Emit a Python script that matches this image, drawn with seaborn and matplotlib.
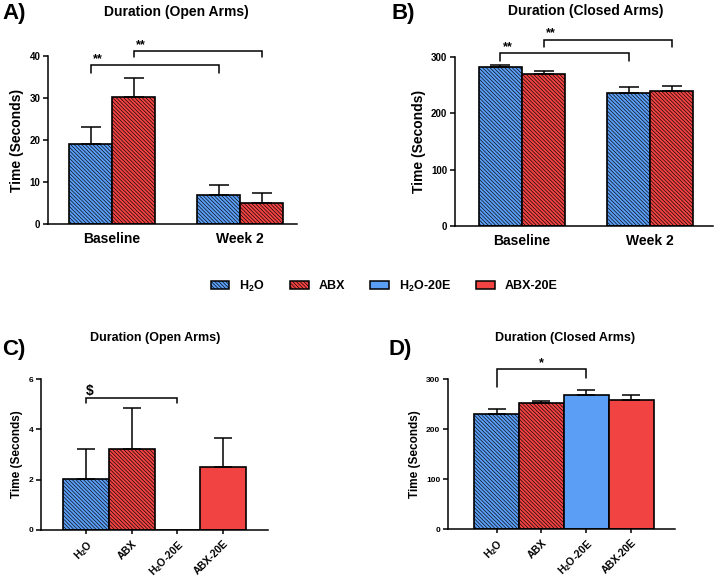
import matplotlib
matplotlib.use("Agg")
import matplotlib.pyplot as plt
from matplotlib.patches import Patch
import numpy as np
import pandas as pd
import seaborn as sns

# ---- data ----
timepoints = ["Baseline", "Week 2"]
groups = ["H2O", "ABX"]
open_h2o = [19.0, 6.8]
open_h2o_err = [4.1, 2.4]
open_abx = [30.3, 5.1]
open_abx_err = [4.5, 2.2]
closed_h2o = [281.5, 235.5]
closed_h2o_err = [4.0, 11.0]
closed_abx = [270.5, 240.0]
closed_abx_err = [4.5, 8.0]

treatments = ["H2O", "ABX", "H2O-20E", "ABX-20E"]
treat_labels = ["H$_2$O", "ABX", "H$_2$O-20E", "ABX-20E"]
open_treat = [2.02, 3.21, 0.0, 2.51]
open_treat_err = [1.2, 1.62, 0.0, 1.15]
closed_treat = [230.0, 251.5, 268.8, 258.8]
closed_treat_err = [10.5, 5.5, 10.0, 10.0]

BLUE = "#5b9ef5"
RED = "#f24343"
HATCH = "\\" * 9

sns.set_style("ticks")
plt.rcParams["font.family"] = ["Liberation Sans", "DejaVu Sans"]
plt.rcParams["font.weight"] = "bold"
plt.rcParams["axes.labelweight"] = "bold"
plt.rcParams["mathtext.fontset"] = "custom"
plt.rcParams["mathtext.rm"] = "Liberation Sans:bold"
plt.rcParams["mathtext.default"] = "rm"
plt.rcParams["hatch.linewidth"] = 0.45
plt.rcParams["hatch.color"] = "black"
for key in ["text.color", "axes.labelcolor", "xtick.color", "ytick.color",
            "axes.edgecolor"]:
    plt.rcParams[key] = "black"

W, H = 715, 583
fig = plt.figure(figsize=(W / 100, H / 100), dpi=100)


def rect(l, t, r, b):
    return [l / W, 1 - b / H, (r - l) / W, (b - t) / H]


def style_axis(ax, ylim, yticks, xlim, tick_fs, label_fs):
    ax.set_ylim(*ylim)
    ax.set_yticks(yticks)
    ax.set_xlim(*xlim)
    sns.despine(ax=ax)
    for s in ["left", "bottom"]:
        ax.spines[s].set_linewidth(1.1)
    ax.tick_params(axis="y", labelsize=tick_fs, width=1.1, length=3.5, pad=2)
    ax.set_ylabel("Time (Seconds)", fontsize=label_fs, fontweight="bold")
    ax.set_xlabel("")


def bracket(ax, x1, x2, y, y1, y2, text, tx, fs=9):
    ax.plot([x1, x1, x2, x2], [y1, y, y, y2], color="black", lw=1.1,
            clip_on=False, solid_joinstyle="miter")
    ax.text(tx, y, text, ha="center", va="bottom", fontsize=fs,
            fontweight="bold")


def grouped(ax, h2o, h2o_err, abx, abx_err):
    df = pd.DataFrame({
        "time": timepoints * 2,
        "group": ["H2O"] * 2 + ["ABX"] * 2,
        "mean": h2o + abx,
    })
    sns.barplot(data=df, x="time", y="mean", hue="group", hue_order=groups,
                palette=[BLUE, RED], width=0.672, gap=0, errorbar=None,
                saturation=1, edgecolor="black", linewidth=1.2, ax=ax,
                legend=False)
    centers = {}
    for cont, g, errs in zip(ax.containers, groups, [h2o_err, abx_err]):
        xs, ys = [], []
        for bar in cont:
            bar.set_hatch(HATCH)
            xs.append(bar.get_x() + bar.get_width() / 2)
            ys.append(bar.get_height())
        centers[g] = xs
        ax.errorbar(xs, ys, yerr=[np.zeros(len(errs)), errs], fmt="none",
                    ecolor="black", elinewidth=1.1, capsize=7.5, capthick=1.1,
                    zorder=1)
    ax.tick_params(axis="x", length=0, labelsize=10, pad=6)
    return centers


def single(ax, means, errs):
    df = pd.DataFrame({"group": treatments, "mean": means})
    sns.barplot(data=df, x="group", y="mean", hue="group",
                hue_order=treatments, order=treatments,
                palette=[BLUE, RED, BLUE, RED], width=1.0, errorbar=None,
                saturation=1, edgecolor="black", linewidth=1.2, ax=ax,
                legend=False)
    xs = []
    for cont, g, e in zip(ax.containers, treatments, errs):
        bar = cont[0]
        x = bar.get_x() + bar.get_width() / 2
        xs.append(x)
        if not g.endswith("20E"):
            bar.set_hatch(HATCH)
        if e > 0:
            ax.errorbar([x], [bar.get_height()], yerr=[[0], [e]], fmt="none",
                        ecolor="black", elinewidth=1.1, capsize=6.5,
                        capthick=1.1, zorder=1)
    ax.set_xticks(range(len(treatments)))
    ax.set_xticklabels(treat_labels, rotation=45, ha="right",
                       rotation_mode="anchor", fontsize=7.5, fontweight="bold")
    ax.tick_params(axis="x", length=3, width=1.1, pad=3)
    return xs


# ---- A ----
axA = fig.add_axes(rect(48, 56, 297, 224))
cA = grouped(axA, open_h2o, open_h2o_err, open_abx, open_abx_err)
style_axis(axA, (0, 40), [0, 10, 20, 30, 40], (-0.5, 1.445), 7, 10)
bracket(axA, cA["H2O"][0], cA["H2O"][1], 37.9, 36.0, 36.0, "**",
        cA["H2O"][0] + 0.055)
bracket(axA, cA["ABX"][0], cA["ABX"][1], 41.2, 39.7, 39.7, "**",
        cA["ABX"][0] + 0.055)

# ---- B ----
axB = fig.add_axes(rect(455, 57, 713, 226))
cB = grouped(axB, closed_h2o, closed_h2o_err, closed_abx, closed_abx_err)
style_axis(axB, (0, 300), [0, 100, 200, 300], (-0.523, 1.49), 7, 10)
bracket(axB, cB["H2O"][0], cB["H2O"][1], 307, 293, 293, "**",
        cB["H2O"][0] + 0.055)
bracket(axB, cB["ABX"][0], cB["ABX"][1], 331, 318, 318, "**",
        cB["ABX"][0] + 0.055)

# ---- C ----
axC = fig.add_axes(rect(41, 379, 268, 530))
xC = single(axC, open_treat, open_treat_err)
style_axis(axC, (0, 6), [0, 2, 4, 6], (-0.985, 3.98), 6, 8.5)
bracket(axC, xC[0], xC[2], 5.24, 5.03, 5.03, "$", xC[0] + 0.09, fs=10)

# ---- D ----
axD = fig.add_axes(rect(448, 379, 675, 529))
xD = single(axD, closed_treat, closed_treat_err)
style_axis(axD, (0, 300), [0, 100, 200, 300], (-1.08, 3.97), 6, 8.5)
bracket(axD, xD[0], xD[2], 320, 284, 302, "*", (xD[0] + xD[2]) / 2)

# ---- titles and panel labels ----
def ftext(x, y, s, fs, ha="center"):
    fig.text(x / W, 1 - y / H, s, fontsize=fs, fontweight="bold", ha=ha,
             va="center")

ftext(176, 12, "Duration (Open Arms)", 10)
ftext(586, 11, "Duration (Closed Arms)", 10)
ftext(155, 338, "Duration (Open Arms)", 9)
ftext(565, 338, "Duration (Closed Arms)", 9)
ftext(2, 14, "A)", 16, ha="left")
ftext(391, 14, "B)", 16, ha="left")
ftext(2, 350, "C)", 16, ha="left")
ftext(389, 350, "D)", 16, ha="left")

# ---- legend ----
handles = [
    Patch(facecolor=BLUE, edgecolor="black", hatch=HATCH, lw=1.1),
    Patch(facecolor=RED, edgecolor="black", hatch=HATCH, lw=1.1),
    Patch(facecolor=BLUE, edgecolor="black", lw=1.1),
    Patch(facecolor=RED, edgecolor="black", lw=1.1),
]
fig.legend(handles, treat_labels, loc="center", ncol=4, frameon=False,
           bbox_to_anchor=(384 / W, 1 - 286 / H),
           handlelength=1.5, handleheight=0.7, handletextpad=0.8,
           columnspacing=2.0, prop={"weight": "bold", "size": 9})

fig.savefig("out.png", dpi=100)
